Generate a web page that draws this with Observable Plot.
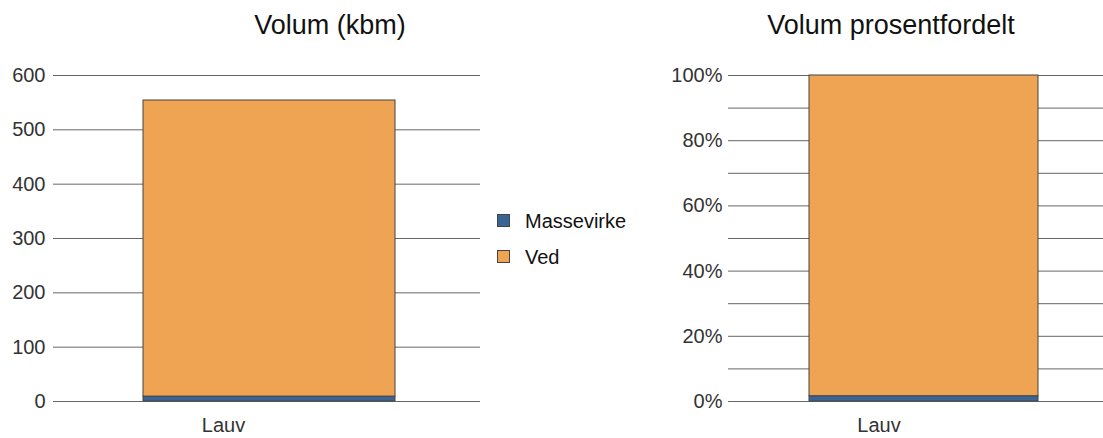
<!DOCTYPE html>
<html>
<head>
<meta charset="utf-8">
<script src="https://cdn.jsdelivr.net/npm/d3@7"></script>
<script src="https://cdn.jsdelivr.net/npm/@observablehq/plot@0.6"></script>
<style>
  html, body { margin: 0; padding: 0; background: #fff; }
  #root { position: relative; width: 1103px; height: 438px; overflow: hidden; font-family: "Liberation Sans", Arial, sans-serif; }
  .panel { position: absolute; top: 0; }
  .title { position: absolute; font-size: 27px; line-height: 27px; color: #111; text-align: center; white-space: nowrap; }
  .leg { position: absolute; font-size: 20px; line-height: 20px; color: #111; white-space: nowrap; }
  .sw { position: absolute; width: 13px; height: 13px; box-sizing: border-box; border: 1px solid #444; }
</style>
</head>
<body>
<div id="root"></div>
<script>
const categories = ["Lauv"];
const series = ["Massevirke", "Ved"];
const massevirke = [9];
const ved = [545];
const colors = ["#3a6496", "#eea453"];
const volumeTicks = [0, 100, 200, 300, 400, 500, 600];
const pctLabelTicks = [0, 20, 40, 60, 80, 100];
const pctGridTicks = [0, 10, 20, 30, 40, 50, 60, 70, 80, 90, 100];

const rows = [];
categories.forEach((c, i) => {
  rows.push({cat: c, series: "Massevirke", value: massevirke[i]});
  rows.push({cat: c, series: "Ved", value: ved[i]});
});
const totals = categories.map((c, i) => massevirke[i] + ved[i]);
const pctRows = rows.map(r => ({...r, value: r.value / totals[categories.indexOf(r.cat)] * 100}));

const root = document.getElementById("root");
const font = {fontFamily: "'Liberation Sans', Arial, sans-serif", fontSize: "20px", color: "#333", background: "transparent"};

const left = Plot.plot({
  width: 490, height: 438,
  marginLeft: 53, marginRight: 10, marginTop: 75, marginBottom: 37,
  style: font,
  x: {domain: categories, padding: 0.256, align: 0.517, axis: null},
  y: {domain: [0, 600], axis: null},
  color: {domain: series, range: colors},
  marks: [
    Plot.gridY(volumeTicks, {stroke: "#666", strokeOpacity: 1, strokeWidth: 1}),
    Plot.axisY(volumeTicks, {tickSize: 0, tickPadding: 8, fill: "#333", label: null}),
    Plot.barY(rows, {x: "cat", y: "value", fill: "series", stroke: "#444", strokeWidth: 1}),
    Plot.axisX({tickSize: 0, tickPadding: 16, dx: -46, fill: "#333", label: null})
  ]
});
left.classList.add("panel");
left.style.left = "0px";
root.appendChild(left);

const right = Plot.plot({
  width: 470, height: 438,
  marginLeft: 78, marginRight: 2, marginTop: 75, marginBottom: 37,
  style: font,
  x: {domain: categories, padding: 0.26, align: 0.5, axis: null},
  y: {domain: [0, 100], axis: null},
  color: {domain: series, range: colors},
  marks: [
    Plot.gridY(pctGridTicks, {stroke: "#666", strokeOpacity: 1, strokeWidth: 1}),
    Plot.axisY(pctLabelTicks, {tickSize: 0, tickPadding: 6, fill: "#333", label: null, tickFormat: d => d + "%"}),
    Plot.barY(pctRows, {x: "cat", y: "value", fill: "series", stroke: "#444", strokeWidth: 1}),
    Plot.axisX({tickSize: 0, tickPadding: 16, dx: -45, fill: "#333", label: null})
  ]
});
right.classList.add("panel");
right.style.left = "650px";
root.appendChild(right);

function addTitle(text, cx) {
  const d = document.createElement("div");
  d.className = "title";
  d.textContent = text;
  d.style.left = (cx - 200) + "px";
  d.style.width = "400px";
  d.style.top = "12px";
  root.appendChild(d);
}
addTitle("Volum (kbm)", 330);
addTitle("Volum prosentfordelt", 891);

series.forEach((s, i) => {
  const cy = 221 + i * 36;
  const sw = document.createElement("div");
  sw.className = "sw";
  sw.style.left = "497px";
  sw.style.top = (cy - 7) + "px";
  sw.style.background = colors[i];
  root.appendChild(sw);
  const t = document.createElement("div");
  t.className = "leg";
  t.textContent = s;
  t.style.left = "525px";
  t.style.top = (cy - 10) + "px";
  root.appendChild(t);
});
</script>
</body>
</html>
